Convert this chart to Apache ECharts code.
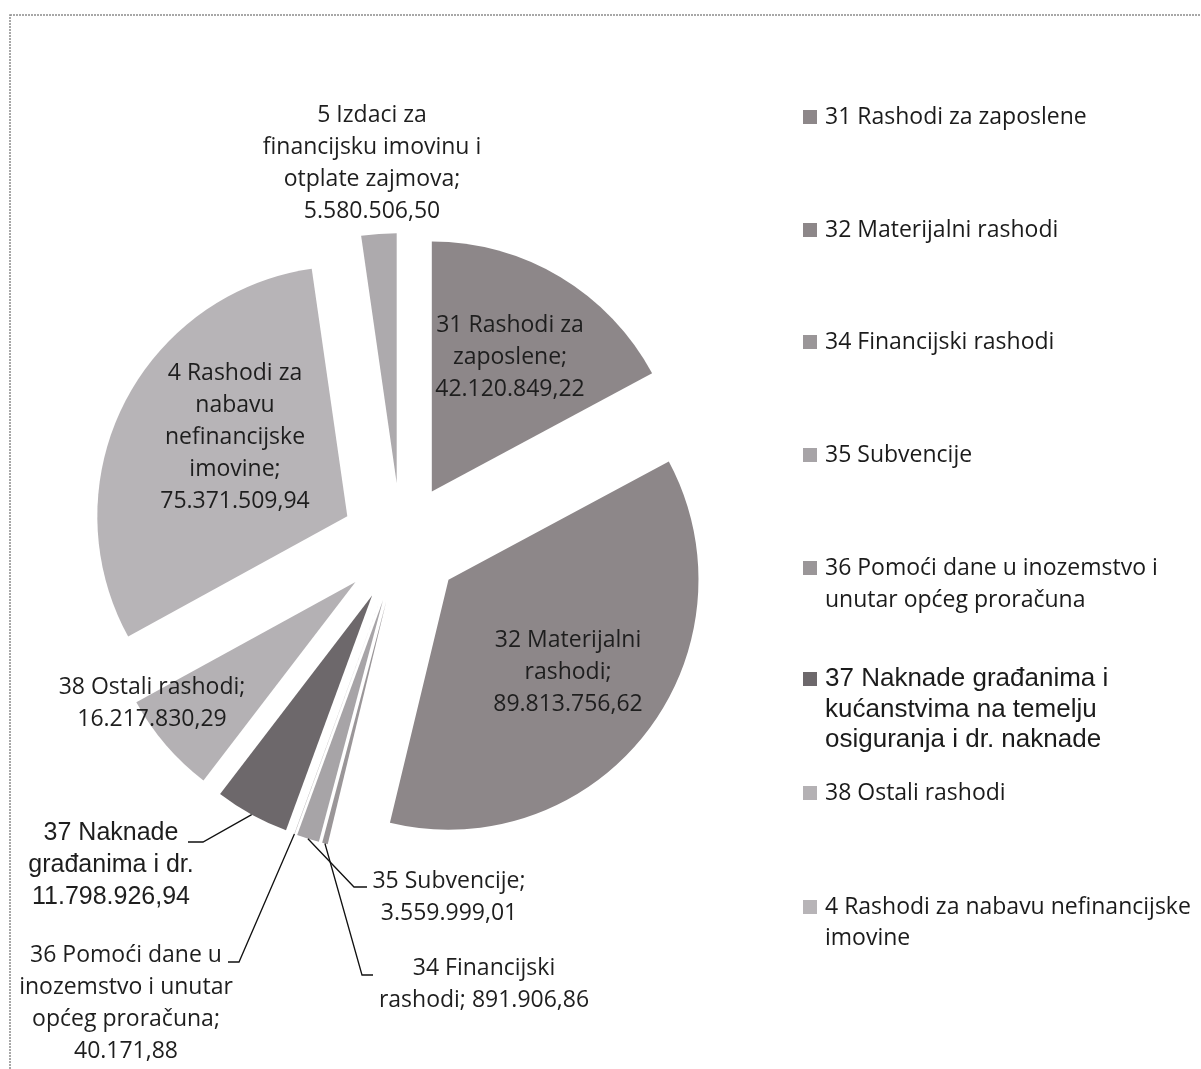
<!DOCTYPE html>
<html>
<head>
<meta charset="utf-8">
<script src="https://cdn.jsdelivr.net/npm/echarts@6/dist/echarts.min.js"></script>
<style>
  html, body { margin: 0; padding: 0; background: #fff; }
  #main { width: 1201px; height: 1069px; }
</style>
</head>
<body>
<div id="main"></div>
<script>
// slice names (legend / series names)
var names = [
  '31 Rashodi za zaposlene',
  '32 Materijalni rashodi',
  '34 Financijski rashodi',
  '35 Subvencije',
  '36 Pomoći dane u inozemstvo i unutar općeg proračuna',
  '37 Naknade građanima i kućanstvima na temelju osiguranja i dr. naknade',
  '38 Ostali rashodi',
  '4 Rashodi za nabavu nefinancijske imovine',
  '5 Izdaci za financijsku imovinu i otplate zajmova'
];
var values = [42120849.22, 89813756.62, 891906.86, 3559999.01, 40171.88,
  11798926.94, 16217830.29, 75371509.94, 5580506.50];

// category part of the data labels, as wrapped in the chart
var labelNames = [
  '31 Rashodi za\nzaposlene;\n',
  '32 Materijalni\nrashodi;\n',
  '34 Financijski\nrashodi; ',
  '35 Subvencije;\n',
  '36 Pomoći dane u\ninozemstvo i unutar\nopćeg proračuna;\n',
  '37 Naknade\ngrađanima i dr.\n',
  '38 Ostali rashodi;\n',
  '4 Rashodi za\nnabavu\nnefinancijske\nimovine;\n',
  '5 Izdaci za\nfinancijsku imovinu i\notplate zajmova;\n'
];

// legend entries (the 5 slice is not in the legend)
var legendIdx = [0, 1, 2, 3, 4, 5, 6, 7];
var legendText = [
  '31 Rashodi za zaposlene',
  '32 Materijalni rashodi',
  '34 Financijski rashodi',
  '35 Subvencije',
  '36 Pomoći dane u inozemstvo i\nunutar općeg proračuna',
  '37 Naknade građanima i\nkućanstvima na temelju\nosiguranja i dr. naknade',
  '38 Ostali rashodi',
  '4 Rashodi za nabavu nefinancijske\nimovine'
];

var colors = ['#8d8789', '#8d8789', '#9a9698', '#a7a4a7', '#9a9698', '#6d686b', '#b4b1b4', '#b7b4b7', '#adaaad'];

// label placement (centre of each label block) and leader lines (relative to label centre)
var labelCenter = [[510, 357], [568, 672], [484, 984], [449, 897], [126, 1003], [111, 865], [152, 703], [235, 437], [372, 163]];
var leaders = {
  2: { t: 0.5, bend: [-122, -9], end: [-111, -9] },
  3: { t: 0.5, bend: [-95, -10], end: [-82, -10] },
  4: { t: 0.5, bend: [113, -41], end: [102, -41] },
  5: { t: 0.5, bend: [92, -23], end: [77, -23] }
};
var legendFirstY = [117, 230, 342, 455, 568, 679, 793, 907];
var legendLineH = [32, 32, 32, 32, 32, 30.5, 32, 31];

var textFont = '"Open Sans", sans-serif';
var arialFont = '"Liberation Sans", Arial, sans-serif';
var explode = 60;

function fmt(v) {
  var parts = v.toFixed(2).split('.');
  return parts[0].replace(/\B(?=(\d{3})+(?!\d))/g, '.') + ',' + parts[1];
}

var chart = echarts.init(document.getElementById('main'));

var legends = legendIdx.map(function (i, k) {
  var lines = legendText[k].split('\n').length;
  var isArial = k === 5;
  var lh = legendLineH[k];
  var pad = new Array(lines).join('\n');
  return {
    data: [names[i]],
    left: 803,
    top: legendFirstY[k] - (lines - 0.5) * lh,
    orient: 'vertical',
    padding: 0,
    icon: 'rect',
    itemWidth: 14,
    itemHeight: 14,
    selectedMode: false,
    formatter: function () { return pad + legendText[k]; },
    textStyle: {
      fontFamily: isArial ? arialFont : textFont,
      fontSize: isArial ? 26 : 23,
      lineHeight: lh,
      color: '#1b1b1b',
      padding: [0, 0, 0, 3]
    }
  };
});

chart.setOption({
  animation: false,
  backgroundColor: '#fff',
  legend: legends,
  series: [{
    type: 'pie',
    center: [401, 543],
    radius: 250,
    startAngle: 90,
    clockwise: true,
    selectedMode: 'multiple',
    selectedOffset: explode,
    avoidLabelOverlap: false,
    silent: true,
    emphasis: { disabled: true },
    itemStyle: { borderWidth: 0 },
    label: { show: false },
    labelLine: { show: false },
    data: names.map(function (n, i) {
      return { name: n, value: values[i], selected: true, itemStyle: { color: colors[i] } };
    })
  }]
});

// point on the outer arc of an exploded slice, from the pie's own layout
function sliceAttach(idx, t) {
  var lay = chart.getModel().getSeriesByIndex(0).getData().getItemLayout(idx);
  var a = lay.startAngle + (lay.endAngle - lay.startAngle) * t;
  var mid = (lay.startAngle + lay.endAngle) / 2;
  return [lay.cx + Math.cos(mid) * explode + Math.cos(a) * lay.r,
          lay.cy + Math.sin(mid) * explode + Math.sin(a) * lay.r];
}

var elements = [{
  type: 'rect',
  id: 'frame',
  shape: { x: 10, y: 15, width: 1200, height: 1070 },
  style: { fill: null, stroke: '#8c8c8c', lineWidth: 1.5, lineDash: [2, 1] },
  silent: true
}];

values.forEach(function (v, i) {
  var c = labelCenter[i];
  var isArial = i === 5;
  elements.push({
    type: 'text',
    id: 'label' + i,
    x: c[0],
    y: c[1],
    silent: true,
    z: 10,
    style: {
      text: labelNames[i] + fmt(v),
      fontFamily: isArial ? arialFont : textFont,
      fontSize: isArial ? 25 : 23,
      lineHeight: 32,
      fill: '#1e1e1e',
      align: 'center',
      verticalAlign: 'middle'
    }
  });
  var ld = leaders[i];
  if (ld) {
    elements.push({
      type: 'polyline',
      id: 'leader' + i,
      silent: true,
      z: 10,
      shape: { points: [
        sliceAttach(i, ld.t),
        [c[0] + ld.bend[0], c[1] + ld.bend[1]],
        [c[0] + ld.end[0], c[1] + ld.end[1]]
      ] },
      style: { stroke: '#111', lineWidth: 1.3, fill: null }
    });
  }
});

chart.setOption({ graphic: { elements: elements } });
</script>
</body>
</html>
